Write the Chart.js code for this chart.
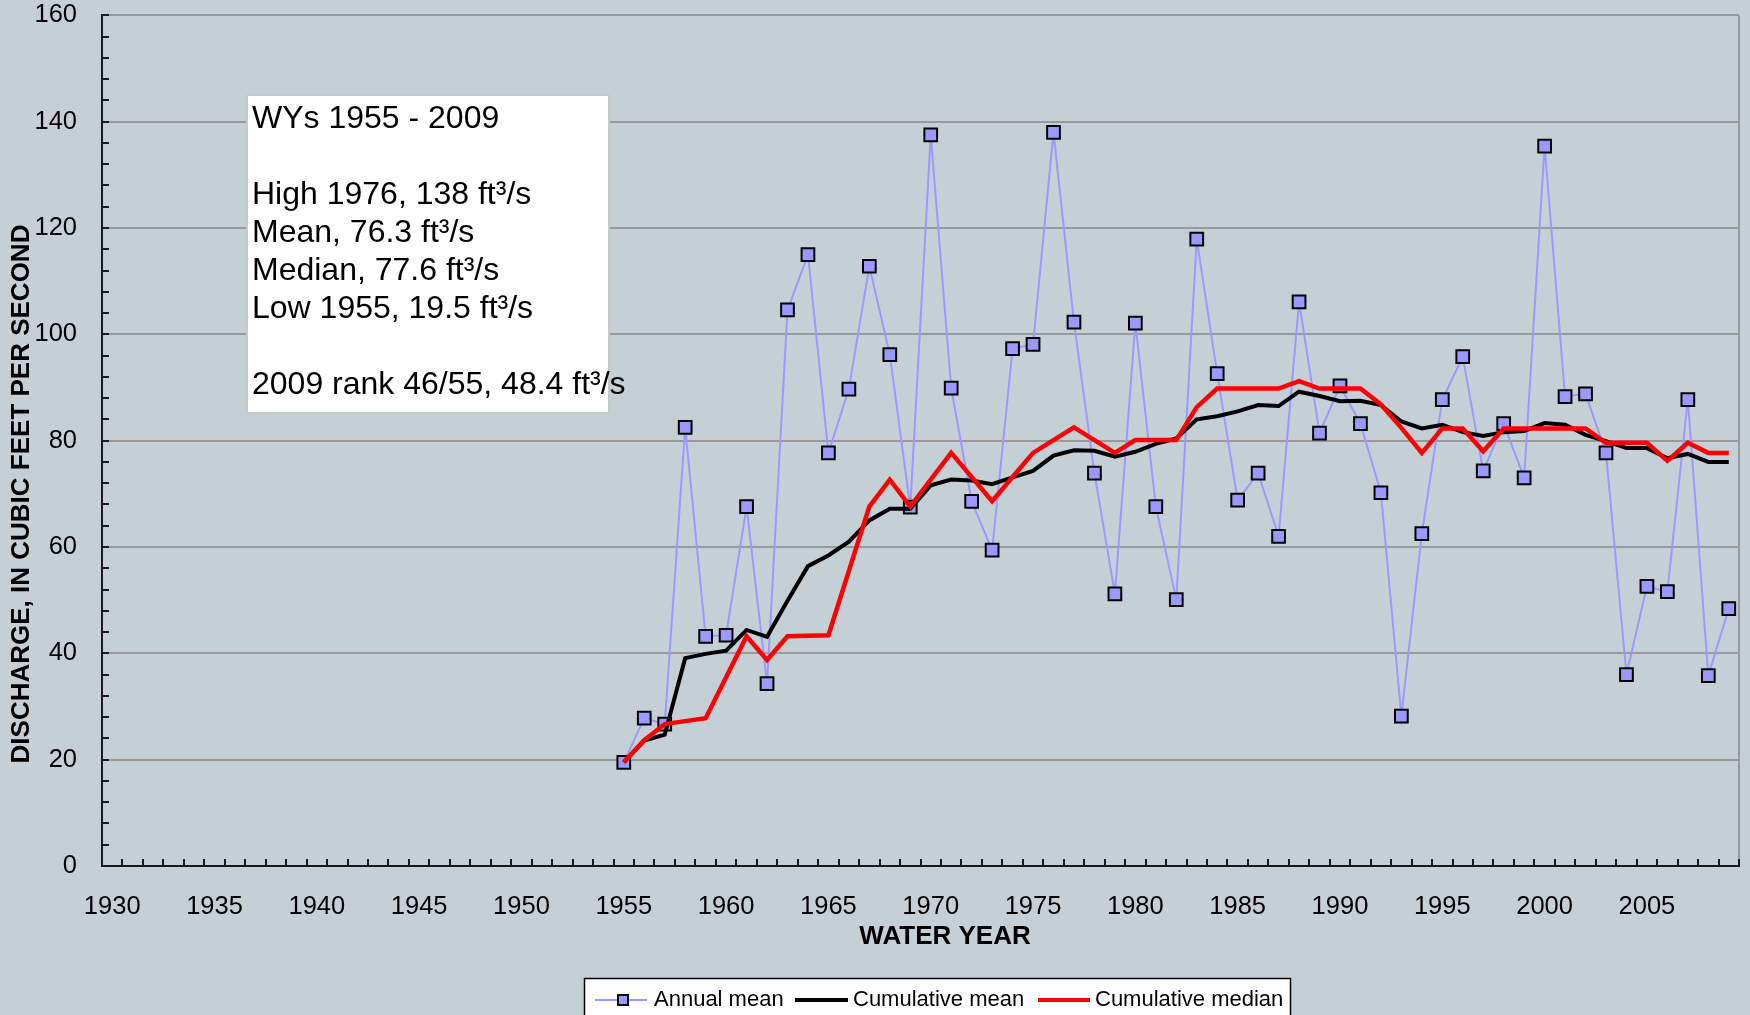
<!DOCTYPE html>
<html><head><meta charset="utf-8">
<script src="https://cdn.jsdelivr.net/npm/chart.js@4.4.1/dist/chart.umd.min.js"></script>
<style>html,body{margin:0;padding:0;background:#C5D0D6;overflow:hidden}canvas{display:block}</style>
</head><body>
<canvas id="c" width="1750" height="1015"></canvas>
<script>
const categories = ['1930','1931','1932','1933','1934','1935','1936','1937','1938','1939',
'1940','1941','1942','1943','1944','1945','1946','1947','1948','1949',
'1950','1951','1952','1953','1954','1955','1956','1957','1958','1959',
'1960','1961','1962','1963','1964','1965','1966','1967','1968','1969',
'1970','1971','1972','1973','1974','1975','1976','1977','1978','1979',
'1980','1981','1982','1983','1984','1985','1986','1987','1988','1989',
'1990','1991','1992','1993','1994','1995','1996','1997','1998','1999',
'2000','2001','2002','2003','2004','2005','2006','2007','2008','2009'];
const xTickLabels = ['1930','1935','1940','1945','1950','1955','1960','1965','1970','1975','1980','1985','1990','1995','2000','2005'];
const waterYears = ['1955','1956','1957','1958','1959','1960','1961','1962','1963','1964',
'1965','1966','1967','1968','1969','1970','1971','1972','1973','1974',
'1975','1976','1977','1978','1979','1980','1981','1982','1983','1984',
'1985','1986','1987','1988','1989','1990','1991','1992','1993','1994',
'1995','1996','1997','1998','1999','2000','2001','2002','2003','2004',
'2005','2006','2007','2008','2009'];
const annualMean = [19.5,27.8,26.7,82.5,43.2,43.4,67.6,34.3,104.6,115.0,
77.7,89.7,112.8,96.2,67.5,137.5,89.9,68.6,59.4,97.3,
98.1,138.0,102.3,73.9,51.2,102.1,67.6,50.1,117.9,92.6,
68.8,73.9,62.0,106.1,81.4,90.3,83.2,70.2,28.2,62.5,
87.7,95.8,74.3,83.2,73.0,135.4,88.3,88.8,77.7,36.0,
52.6,51.6,87.7,35.8,48.4];
const cumulativeMean = [19.5,23.6,24.7,39.1,39.9,40.5,44.4,43.1,49.9,56.4,
58.4,61.0,65.0,67.2,67.2,71.6,72.7,72.5,71.8,73.1,
74.3,77.2,78.2,78.1,77.0,77.9,79.4,80.4,84.0,84.6,
85.5,86.7,86.5,89.2,88.4,87.4,87.5,86.7,83.6,82.3,
83.0,81.6,80.9,81.6,81.8,83.3,83.0,81.1,79.9,78.6,
78.6,76.7,77.5,76.0,76.0];
const cumulativeMedian = [19.5,23.65,26.7,27.25,27.8,35.5,43.2,38.75,43.2,43.3,
43.4,55.5,67.6,72.65,67.6,72.65,77.7,73.15,68.6,73.15,
77.7,80.1,82.5,80.1,77.7,80.1,80.1,80.1,86.3,89.8,
89.8,89.8,89.8,91.2,89.8,89.8,89.8,86.8,82.4,77.7,
82.3,82.3,78.0,82.3,82.3,82.3,82.3,82.3,79.6,79.6,
79.6,76.2,79.6,77.7,77.7];
const boxLines = ['WYs 1955 - 2009','','High 1976, 138 ft³/s','Mean, 76.3 ft³/s','Median, 77.6 ft³/s','Low 1955, 19.5 ft³/s','','2009 rank 46/55, 48.4 ft³/s'];
const legendNames = ['Annual mean','Cumulative mean','Cumulative median'];
const yTitle = 'DISCHARGE, IN CUBIC FEET PER SECOND';
const xTitle = 'WATER YEAR';

const BG = '#C5D0D6';
const FONT = "'Liberation Sans', Arial, Helvetica, sans-serif";
const ANN = '#9999FF';

function pts(vals){ return waterYears.map((y,i)=>({x:y, y:vals[i]})); }

const decor = {
  id:'decor',
  beforeDraw(chart){
    const c = chart.ctx; c.save(); c.fillStyle = BG; c.fillRect(0,0,chart.width,chart.height); c.restore();
  },
  beforeDatasetsDraw(chart){
    const c = chart.ctx, a = chart.chartArea;
    c.save();
    c.strokeStyle = '#999999'; c.lineWidth = 2;
    c.beginPath(); c.moveTo(a.right, a.top); c.lineTo(a.right, a.bottom); c.stroke();
    c.fillStyle = '#FFFFFF'; c.fillRect(247, 95, 362, 318);
    c.strokeStyle = '#C8C8C8'; c.lineWidth = 2; c.strokeRect(247, 95, 362, 318);
    c.fillStyle = '#000'; c.font = '32px ' + FONT; c.textBaseline = 'middle'; c.textAlign = 'left';
    boxLines.forEach((t,i)=>{ if (t) c.fillText(t, 252, 119.5 + i*38); });
    c.restore();
  },
  afterDraw(chart){
    const c = chart.ctx, a = chart.chartArea, xs = chart.scales.x, ys = chart.scales.y;
    c.save();
    c.strokeStyle = '#1a1a1a'; c.lineWidth = 2;
    c.beginPath();
    for (let v = 0; v <= 160; v += 4){ const y = Math.round(ys.getPixelForValue(v)); c.moveTo(a.left, y); c.lineTo(a.left + 7, y); }
    for (let i = 1; i <= categories.length; i++){
      const x = i < categories.length ? Math.round((xs.getPixelForValue(i-1) + xs.getPixelForValue(i))/2) : a.right;
      c.moveTo(x, a.bottom); c.lineTo(x, a.bottom - 7);
    }
    c.stroke();
    c.fillStyle = '#000'; c.font = 'bold 26px ' + FONT; c.textAlign = 'center'; c.textBaseline = 'middle';
    c.fillText(xTitle, 945, 937);
    c.save(); c.translate(22, 494); c.rotate(-Math.PI/2); c.fillText(yTitle, 0, 0); c.restore();
    c.fillStyle = '#FFFFFF'; c.fillRect(584, 978, 706, 60);
    c.strokeStyle = '#000'; c.lineWidth = 1.5; c.strokeRect(584.5, 978.5, 706, 60);
    const ly = 1000;
    c.lineWidth = 2; c.strokeStyle = ANN; c.beginPath(); c.moveTo(595, ly); c.lineTo(647, ly); c.stroke();
    c.fillStyle = ANN; c.fillRect(618, ly-5, 10, 10); c.strokeStyle = '#000'; c.lineWidth = 2; c.strokeRect(618, ly-5, 10, 10);
    c.lineWidth = 4; c.strokeStyle = '#000'; c.beginPath(); c.moveTo(795, ly); c.lineTo(848, ly); c.stroke();
    c.strokeStyle = '#FF0000'; c.beginPath(); c.moveTo(1038, ly); c.lineTo(1090, ly); c.stroke();
    c.fillStyle = '#000'; c.font = '22px ' + FONT; c.textAlign = 'left'; c.textBaseline = 'middle';
    c.fillText(legendNames[0], 654, ly); c.fillText(legendNames[1], 853, ly); c.fillText(legendNames[2], 1095, ly);
    c.restore();
  }
};

new Chart(document.getElementById('c'), {
  type: 'line',
  data: {
    labels: categories,
    datasets: [
      { label: legendNames[0], data: pts(annualMean), borderColor: ANN, borderWidth: 2, backgroundColor: ANN,
        pointStyle: 'rect', pointRadius: 9, pointBorderColor: '#000', pointBorderWidth: 2, pointBackgroundColor: ANN, tension: 0, order: 3 },
      { label: legendNames[1], data: pts(cumulativeMean), borderColor: '#000000', borderWidth: 4, pointRadius: 0, tension: 0, order: 2 },
      { label: legendNames[2], data: pts(cumulativeMedian), borderColor: '#FF0000', borderWidth: 4.5, pointRadius: 0, tension: 0, order: 1 }
    ]
  },
  options: {
    responsive: false, devicePixelRatio: 1, animation: false,
    layout: { padding: { top: 0, right: 6, left: 0, bottom: 0 } },
    plugins: { legend: { display: false }, tooltip: { enabled: false } },
    scales: {
      x: { type: 'category', offset: true,
        grid: { display: true, drawOnChartArea: false, drawTicks: true, tickLength: 26, tickColor: 'rgba(0,0,0,0)', offset: true },
        border: { display: true, color: '#1a1a1a', width: 2 },
        ticks: { autoSkip: false, maxRotation: 0, minRotation: 0, padding: 0, color: '#000',
          font: { family: FONT, size: 25.5 },
          callback: function(v, i){ return xTickLabels.includes(categories[i]) ? categories[i] : ''; } },
        afterFit: s => { s.height = 149; } },
      y: { min: 0, max: 160,
        grid: { color: '#999999', lineWidth: 2, drawTicks: true, tickLength: 25, tickColor: 'rgba(0,0,0,0)' },
        border: { display: true, color: '#1a1a1a', width: 2 },
        ticks: { stepSize: 20, padding: 0, color: '#000', font: { family: FONT, size: 25.5 } },
        afterFit: s => { s.width = 102; } }
    }
  },
  plugins: [decor]
});
</script></body></html>
